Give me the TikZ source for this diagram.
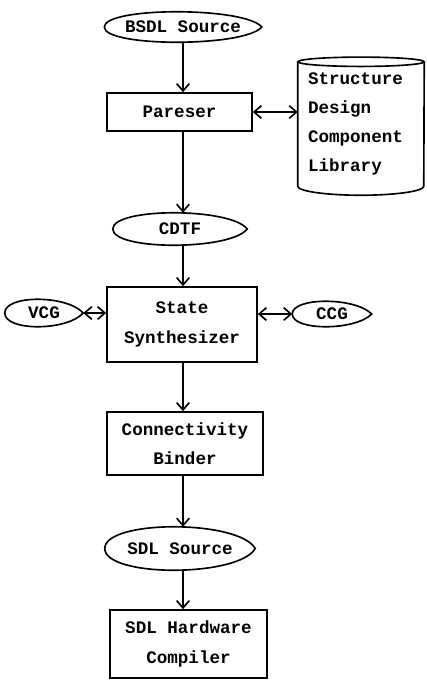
\documentclass[tikz,border=0pt]{standalone}
\usepackage{fontspec}
\setmainfont{Liberation Mono}
\usetikzlibrary{arrows.meta,calc}

\tikzset{
	box/.style={draw, line width=1.4pt, align=center, inner sep=0pt},
	flow/.style={inner sep=0pt},
	>={Straight Barb[length=2.2mm,width=3.8mm,line width=1.4pt]}
}
% lens shaped outline round a named node, touching its north and south
\newcommand{\lens}[1]{\draw[line width=1.4pt] (#1.west) .. controls ($(#1.west)!1.333!(#1.north west)$) and ([xshift=-5mm]$(#1.east)!1.333!(#1.north east)$) .. (#1.east) .. controls ([xshift=-5mm]$(#1.east)!1.333!(#1.south east)$) and ($(#1.west)!1.333!(#1.south west)$) .. (#1.west);}

\begin{document}
\begin{tikzpicture}[font=\fontsize{15}{25}\selectfont\bfseries]
		\useasboundingbox (0,0) rectangle (12.78,-20.4);
		
		\node[flow,minimum width=4.71cm,minimum height=0.9cm] (bsdl) at (5.49,-0.81) {BSDL Source}; \lens{bsdl}
		\node[box,minimum width=4.35cm,minimum height=1.14cm] (pareser) at (5.385,-3.36) {Pareser};
		\node[flow,minimum width=3.78cm,minimum height=3.72cm,text width=3.18cm,align=left] (lib) at (10.83,-3.72) {Structure\\Design\\Component\\Library}; % library
		\draw[line width=1.4pt] (lib.north) ellipse [x radius=1.89cm,y radius=0.14cm]; %top of cylinder
		\draw[line width=1.4pt] (lib.north west) -- (lib.south west) arc [start angle=180,end angle=360,x radius=1.89cm,y radius=0.27cm] -- (lib.north east); %body of cylinder
		
		\node[flow,minimum width=4.02cm,minimum height=0.96cm] (cdtf) at (5.4,-6.87) {CDTF}; \lens{cdtf}
		\node[box,minimum width=4.5cm,minimum height=2.25cm] (state) at (5.46,-9.735) {State\\Synthesizer};
		\node[flow,minimum width=2.34cm,minimum height=0.81cm] (vcg) at (1.32,-9.39) {VCG}; \lens{vcg}
		\node[flow,minimum width=2.37cm,minimum height=0.75cm] (ccg) at (9.96,-9.42) {CCG}; \lens{ccg}
		\node[box,minimum width=4.68cm,minimum height=1.89cm] (bind) at (5.55,-13.305) {Connectivity\\Binder};
		\node[flow,minimum width=4.5cm,minimum height=1.29cm] (sdl) at (5.4,-16.455) {SDL Source}; \lens{sdl}
		\node[box,minimum width=4.71cm,minimum height=2.04cm] (comp) at (5.655,-19.32) {SDL Hardware\\Compiler};
		
		% flow, top to bottom
		\draw[->,line width=1.4pt] (bsdl.south) -- (pareser.north -| bsdl.south);
		\draw[->,line width=1.4pt] (pareser.south -| bsdl.south) -- (cdtf.north -| bsdl.south);
		\draw[->,line width=1.4pt] (cdtf.south -| bsdl.south) -- (state.north -| bsdl.south);
		\draw[->,line width=1.4pt] (state.south -| bsdl.south) -- (bind.north -| bsdl.south);
		\draw[->,line width=1.4pt] (bind.south -| bsdl.south) -- (sdl.north -| bsdl.south);
		\draw[->,line width=1.4pt] (sdl.south -| bsdl.south) -- (comp.north -| bsdl.south);
		
		% both ways
		\draw[<->,line width=1.4pt] (pareser.east) -- (pareser.east -| lib.west);
		\draw[<->,line width=1.4pt] (vcg.east) -- (vcg.east -| state.west);
		\draw[<->,line width=1.4pt] (state.east |- ccg.west) -- (ccg.west);
\end{tikzpicture}
\end{document}
